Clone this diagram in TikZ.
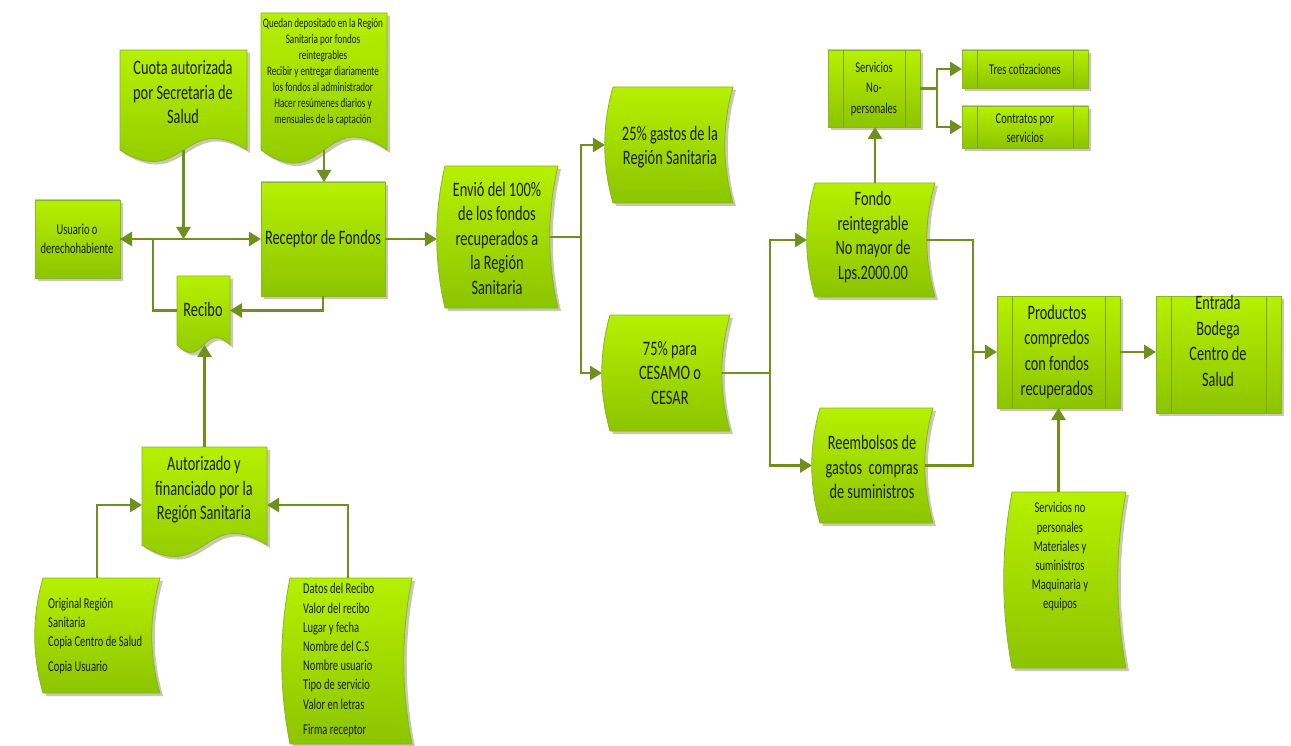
\documentclass[tikz,border=0pt]{standalone}
\usepackage{fontspec}
\setmainfont{Carlito}[FakeStretch=0.7]
\usetikzlibrary{arrows.meta,calc}
\definecolor{gtop}{HTML}{B6F000}
\definecolor{gbot}{HTML}{8CC400}
\definecolor{bord}{HTML}{8DB32A}
\definecolor{lc}{HTML}{6F8F1F}
\definecolor{shcol}{HTML}{C4CCAA}
\definecolor{tc}{HTML}{1A1F05}
\definecolor{inlc}{HTML}{7FA320}
\tikzset{
  box/.style={inner sep=0pt, outer sep=0pt, draw=none},
  grad/.style={top color=gtop, bottom color=gbot, draw=bord, line width=0.8pt},
  shd/.style={fill=shcol},
  inl/.style={draw=inlc, line width=0.8pt},
  conn/.style={draw=lc, line width=2.8pt},
  arr/.style={conn, -{Triangle[length=12pt,width=14pt]}},
  txt/.style={font=\fontsize{20.5}{24.5}\selectfont, align=center, text=tc, inner sep=0pt},
  stxt/.style={font=\fontsize{15}{19.2}\selectfont, align=center, text=tc, inner sep=0pt},
  xtxt/.style={font=\fontsize{13}{16}\selectfont, align=center, text=tc, inner sep=0pt},
  rectp/.style 2 args={insert path={let \p1=(#1.north west), \p2=(#1.south east) in
    (\x1+#2,\y1-#2) rectangle (\x2+#2,\y2-#2)}},
  docp/.style n args={3}{insert path={let \p1=(#1.north west), \p2=(#1.south east), \p3=(#1.center) in
    (\x1+#2,\y1-#2) -- (\x2+#2,\y1-#2) -- (\x2+#2,\y2-#2)
    .. controls (\x3+#2,\y2+#3-#2) and (\x3+#2,\y2-#3-#2) .. (\x1+#2,\y2-#2) -- cycle}},
  curvp/.style n args={3}{insert path={let \p1=(#1.north west), \p2=(#1.south east), \n1={(\y1-\y2)/3} in
    (\x1+#2,\y1-#2) -- (\x2+#2,\y1-#2)
    .. controls (\x2-#3+#2,\y1-\n1-#2) and (\x2-#3+#2,\y2+\n1-#2) .. (\x2+#2,\y2-#2)
    -- (\x1+#2,\y2-#2)
    .. controls (\x1-#3+#2,\y2+\n1-#2) and (\x1-#3+#2,\y1-\n1-#2) .. (\x1+#2,\y1-#2) -- cycle}},
}
\newcommand\mk[5]{\node[box, minimum width={(#4-#2)*1pt}, minimum height={(#5-#3)*1pt}] (#1) at ({(#2+#4)/2},{(#3+#5)/2}) {};}
\newcommand\shrect[1]{\fill[shd, rectp={#1}{3pt}]; \shade[grad, rectp={#1}{0pt}];}
\newcommand\shdoc[2]{\fill[shd, docp={#1}{3pt}{#2}]; \shade[grad, docp={#1}{0pt}{#2}];}
\newcommand\shcurv[1]{\fill[shd, curvp={#1}{3pt}{11pt}]; \shade[grad, curvp={#1}{0pt}{11pt}];}
\newcommand\shpre[1]{\shrect{#1}
  \draw[inl] let \p1=(#1.north west), \p2=(#1.south east) in
    (\x1+15pt,\y1) -- (\x1+15pt,\y2) (\x2-15pt,\y1) -- (\x2-15pt,\y2);}
\begin{document}
\begin{tikzpicture}[x=1pt,y=-1pt]
\fill[white] (0,0) rectangle (1291,746);
\useasboundingbox (0,0) rectangle (1291,746);
% shape frames
\mk{usr}{35}{200}{120}{278}
\mk{cuota}{120}{50}{247}{150}
\mk{qued}{261}{13}{387}{150}
\mk{recep}{261}{182}{385}{296}
\mk{recibo}{177}{276}{230}{345}
\mk{autor}{142}{447}{267}{545}
\mk{orig}{43}{578}{160}{693}
\mk{datos}{290}{578}{412}{744}
\mk{envio}{445}{166}{558}{308}
\mk{gA}{613}{87}{733}{203}
\mk{gB}{610}{315}{730}{431}
\mk{fondo}{815}{183}{935}{297}
\mk{reemb}{820}{408}{933}{523}
\mk{snp}{828}{50}{920}{127}
\mk{tres}{962}{50}{1088}{88}
\mk{contr}{962}{106}{1088}{148}
\mk{prod}{997}{296}{1120}{408}
\mk{entr}{1156}{296}{1281}{413}
\mk{serv}{1012}{492}{1126}{668}
% draw shapes
\shrect{usr}
\shrect{recep}
\shdoc{cuota}{40pt}
\shdoc{qued}{45pt}
\shdoc{recibo}{26pt}
\shdoc{autor}{40pt}
\shcurv{orig}
\shcurv{datos}
\shcurv{envio}
\shcurv{gA}
\shcurv{gB}
\shcurv{fondo}
\shcurv{reemb}
\shcurv{serv}
\shpre{snp}
\shpre{tres}
\shpre{contr}
\shpre{prod}
\shpre{entr}
% texts
\node[stxt] (t1) at (77,239) {Usuario o\\derechohabiente};
\node[txt] (t2) at (183,92) {Cuota autorizada\\por Secretaria de\\Salud};
\node[xtxt] (t3) at (323,72) {Quedan depositado en la Región\\Sanitaria por fondos\\reintegrables\\Recibir y entregar diariamente\\los fondos al administrador\\Hacer resúmenes diarios y\\mensuales de la captación};
\node[txt] (t4) at (323,239) {Receptor de Fondos};
\node[txt] (t5) at (203,309) {Recibo};
\node[txt] (t6) at (204,490) {Autorizado y\\financiado por la\\Región Sanitaria};
\node[stxt, align=left, anchor=west] (t7) at (48,636) {Original Región\\Sanitaria\\Copia Centro de Salud\\[6pt]Copia Usuario};
\node[stxt, align=left, anchor=west] (t8) at (303,660) {Datos del Recibo\\Valor del recibo\\Lugar y fecha\\Nombre del C.S\\Nombre usuario\\Tipo de servicio\\Valor en letras\\[6pt]Firma receptor};
\node[txt] (t9) at (497,238) {Envió del 100\%\\de los fondos\\recuperados a\\la Región\\Sanitaria};
\node[txt] (t10) at (670,147) {25\% gastos de la\\Región Sanitaria};
\node[txt] (t11) at (670,373) {75\% para\\CESAMO o\\CESAR};
\node[txt] (t12) at (873,237) {Fondo\\reintegrable\\No mayor de\\Lps.2000.00};
\node[txt] (t13) at (872,467) {Reembolsos de\\gastos\ \ compras\\de suministros};
\node[stxt, font=\fontsize{15}{20.5}\selectfont] (t14) at (874,89) {Servicios\\No-\\personales};
\node[stxt] (t15) at (1025,69) {Tres cotizaciones};
\node[stxt] (t16) at (1025,128) {Contratos por\\servicios};
\node[txt, font=\fontsize{20.5}{25.5}\selectfont] (t17) at (1057,352) {Productos\\compredos\\con fondos\\recuperados};
\node[txt, font=\fontsize{20.5}{25.5}\selectfont] (t18) at (1218,341) {Entrada\\Bodega\\Centro de\\Salud};
\node[stxt] (t19) at (1060,557) {Servicios no\\personales\\Materiales y\\suministros\\Maquinaria y\\equipos};
% visible edge points of curved shapes
\coordinate (envioL) at ([xshift=-8pt]envio.west);
\coordinate (envioR) at ([xshift=-8pt]envio.east);
\coordinate (gAL) at ([xshift=-8pt]gA.west);
\coordinate (gBL) at ([xshift=-8pt]gB.west);
\coordinate (gBR) at ([xshift=-8pt]gB.east);
\coordinate (fondoL) at ([xshift=-8pt]fondo.west);
\coordinate (fondoR) at ([xshift=-8pt]fondo.east);
\coordinate (reembL) at ([xshift=-8pt]reemb.west);
\coordinate (reembR) at ([xshift=-8pt]reemb.east);
% junction helpers
\coordinate (jA) at (153,239);
\coordinate (jB) at (183.5,239);
\coordinate (yA) at (0,505);
\coordinate (jC) at (97,0);
\coordinate (jD) at (348,0);
\coordinate (jE) at (581,0);
\coordinate (jF) at (770,0);
\coordinate (jG) at (973,352);
\coordinate (jH) at (937,0);
% connectors
\draw[arr] (recibo.west) -| (jA) -- (usr.east);
\draw[arr] (usr.east) -- (recep.west);
\draw[arr] (cuota.south) -- (jB);
\draw[arr] (qued.south) -- (qued.south |- recep.north);
\draw[arr] (recep.south) |- (recibo.east);
\draw[arr] (autor.north) -- (autor.north |- recibo.south);
\draw[arr] (jC |- orig.north) |- (autor.west |- yA);
\draw[arr] (jD |- datos.north) |- (autor.east |- yA);
\draw[arr] (recep.east) -- (recep.east -| envioL);
\draw[arr] (envioR) -| (jE |- gAL) -- (gAL);
\draw[arr] (envioR) -| (jE |- gBL) -- (gBL);
\draw[arr] (gBR) -| (jF |- fondoL) -- (fondoL);
\draw[arr] (gBR) -| (jF |- reembL) -- (reembL);
\draw[conn] (fondoR) -| (jG);
\draw[conn] (reembR) -| (jG);
\draw[arr] (jG) -- (jG -| prod.west);
\draw[arr] (prod.east) -- (prod.east -| entr.west);
\draw[arr] (prod.south |- serv.north) -- (prod.south);
\draw[arr] (fondo.north) -- (fondo.north |- snp.south);
\draw[arr] (snp.east) -| (jH |- tres.west) -- (tres.west);
\draw[arr] (snp.east) -| (jH |- contr.west) -- (contr.west);
\end{tikzpicture}
\end{document}
